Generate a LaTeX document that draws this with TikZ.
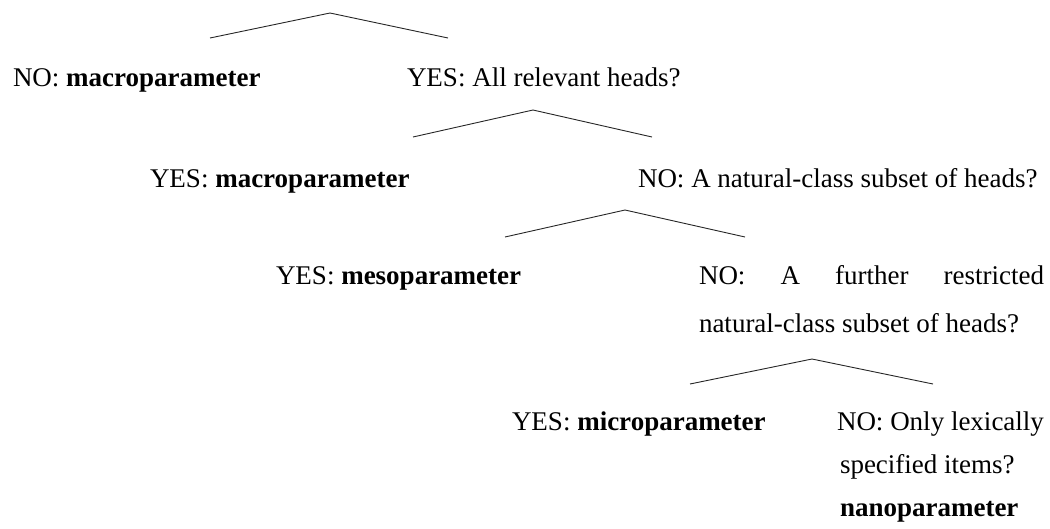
\documentclass[tikz,border=0pt]{standalone}
\usepackage{fontspec}
\setmainfont{Liberation Serif}
\begin{document}
\begin{tikzpicture}[x=1pt,y=-1pt,
  lbl/.style={anchor=base west,inner sep=0pt,outer sep=0pt,font=\fontsize{27}{27}\selectfont},
  branch/.style={draw=black!85,line width=0.9pt,line join=round}]
\useasboundingbox (0,0) rectangle (1050,528);
% tree 1
\coordinate (a1) at (330,13);
\coordinate (l1) at (210,38);
\coordinate (r1) at (448,38);
\node[lbl] (n1) at (13,86) {NO: \textbf{macroparameter}};
\node[lbl] (y1) at (407,86) {YES: All relevant heads?};
% tree 2
\coordinate (a2) at (533,110);
\coordinate (l2) at (413,137);
\coordinate (r2) at (652,137);
\node[lbl] (y2) at (150,187) {YES: \textbf{macroparameter}};
\node[lbl] (n2) at (638,187) {NO: A natural-class subset of heads?};
% tree 3
\coordinate (a3) at (625,210);
\coordinate (l3) at (505,237);
\coordinate (r3) at (745,237);
\node[lbl] (y3) at (276,284) {YES: \textbf{mesoparameter}};
\node[lbl] (n3) at (699,284) {\parbox[t]{345pt}{\fontsize{27}{48}\selectfont
  \makebox[345pt][s]{NO: A further restricted}\\
  natural-class subset of heads?}};
% tree 4
\coordinate (a4) at (812,359);
\coordinate (l4) at (690,384);
\coordinate (r4) at (933,384);
\node[lbl] (y4) at (512,430) {YES: \textbf{microparameter}};
\node[lbl] (n4) at (837,430) {\parbox[t]{220pt}{\fontsize{27}{43}\selectfont
  NO: Only lexically\\
  \hspace*{3pt}specified items?\\
  \hspace*{3pt}\textbf{nanoparameter}}};
\draw[branch] (l1) -- (a1) -- (r1);
\draw[branch] (l2) -- (a2) -- (r2);
\draw[branch] (l3) -- (a3) -- (r3);
\draw[branch] (l4) -- (a4) -- (r4);
\end{tikzpicture}
\end{document}
